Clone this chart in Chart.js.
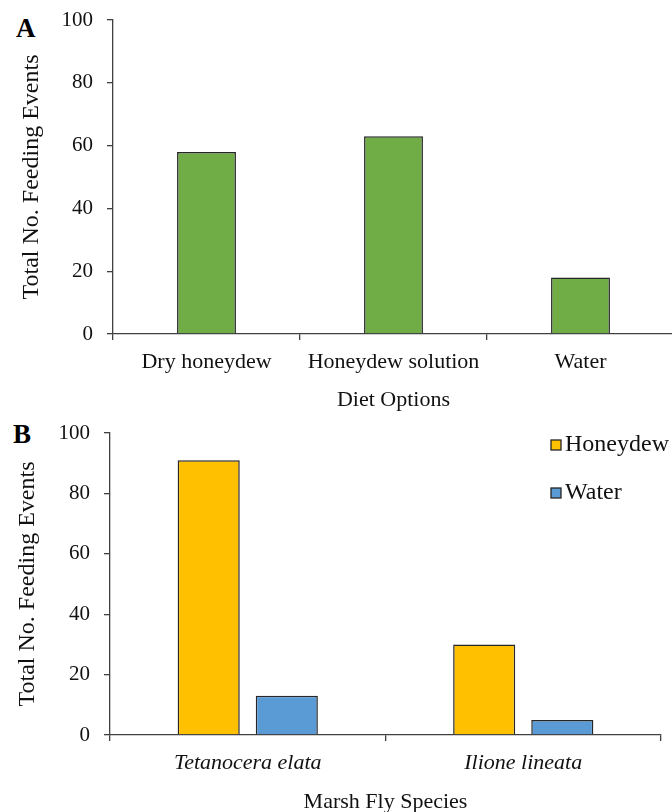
<!DOCTYPE html>
<html>
<head>
<meta charset="utf-8">
<script src="https://cdn.jsdelivr.net/npm/chart.js@4"></script>
<style>
  body { margin: 0; width: 672px; height: 812px; overflow: hidden; background: #fff; position: relative; }
  canvas { position: absolute; left: 0; }
  .panel { position: absolute; font: bold 27px "Liberation Serif", "Times New Roman", serif; color: #000; }
</style>
</head>
<body>
<div class="panel" style="left:16px; top:13px;">A</div>
<div class="panel" style="left:13px; top:419px;">B</div>
<canvas id="dietChart" width="676" height="414" style="top:0px;"></canvas>
<canvas id="speciesChart" width="672" height="396" style="top:420px;"></canvas>
<script>
// Panel A: diet choice
const dietOptions = ["Dry honeydew", "Honeydew solution", "Water"];
const dietEvents = [58, 63, 18];

// Panel B: species vs diet
const flySpecies = ["Tetanocera elata", "Ilione lineata"];
const honeydewEvents = [91, 30];
const waterEvents = [13, 5];

const yTicks = [0, 20, 40, 60, 80, 100];

const serif = '"Liberation Serif", "Times New Roman", serif';
const axisColor = "#404040";
const textColor = "#111";

function yAxis(width, titlePad) {
  return {
    min: 0,
    max: 100,
    afterBuildTicks: (scale) => {
      scale.ticks = yTicks.map((v) => ({ value: v }));
    },
    afterFit: (scale) => {
      scale.width = width;
      // let layout.padding decide where the plot starts
      scale.paddingTop = 0;
      scale.paddingBottom = 0;
    },
    border: { color: axisColor, width: 1.3 },
    grid: { drawOnChartArea: false, drawTicks: true, tickLength: 6, color: axisColor, lineWidth: 1.3 },
    ticks: { color: textColor, padding: 14, font: { family: serif, size: 21 } },
    title: {
      display: true,
      text: "Total No. Feeding Events",
      color: textColor,
      font: { family: serif, size: 24 },
      padding: { top: titlePad, bottom: 0 },
    },
  };
}

function xAxis(height, title, italic) {
  return {
    afterFit: (scale) => {
      scale.height = height;
    },
    border: { color: axisColor, width: 1.3 },
    grid: { drawOnChartArea: false, drawTicks: true, tickLength: 6, color: axisColor, lineWidth: 1.3 },
    ticks: {
      color: textColor,
      padding: 9,
      maxRotation: 0,
      font: { family: serif, size: 22, style: italic ? "italic" : "normal" },
    },
    title: {
      display: true,
      text: title,
      color: textColor,
      font: { family: serif, size: 22 },
      padding: { top: 0, bottom: 1 },
    },
  };
}

// small legend drawn at the top right of panel B
const boxLegend = {
  id: "boxLegend",
  afterDraw(chart) {
    const { ctx } = chart;
    const rows = [25, 73];
    ctx.save();
    ctx.font = `24px ${serif}`;
    ctx.textBaseline = "middle";
    chart.data.datasets.forEach((ds, i) => {
      const y = rows[i];
      ctx.fillStyle = ds.backgroundColor;
      ctx.fillRect(551, y - 5, 10, 10);
      ctx.strokeStyle = "#262626";
      ctx.lineWidth = 1.3;
      ctx.strokeRect(551, y - 5, 10, 10);
      ctx.fillStyle = textColor;
      ctx.fillText(ds.label, 565, y);
    });
    ctx.restore();
  },
};

new Chart(document.getElementById("dietChart"), {
  type: "bar",
  data: {
    labels: dietOptions,
    datasets: [
      {
        label: "Feeding events",
        data: dietEvents,
        backgroundColor: "#70AD47",
        borderColor: "#262626",
        borderWidth: 1.5,
        categoryPercentage: 0.315,
        barPercentage: 1,
      },
    ],
  },
  options: {
    responsive: false,
    animation: false,
    layout: { padding: { left: 0, right: 2, top: 20, bottom: 0 } },
    scales: {
      x: xAxis(80, "Diet Options", false),
      y: yAxis(113, 17),
    },
    plugins: { legend: { display: false }, tooltip: { enabled: false } },
  },
});

new Chart(document.getElementById("speciesChart"), {
  type: "bar",
  data: {
    labels: flySpecies,
    datasets: [
      {
        label: "Honeydew",
        data: honeydewEvents,
        backgroundColor: "#FFC000",
        borderColor: "#262626",
        borderWidth: 1.5,
        categoryPercentage: 0.567,
        barPercentage: 0.795,
      },
      {
        label: "Water",
        data: waterEvents,
        backgroundColor: "#5B9BD5",
        borderColor: "#262626",
        borderWidth: 1.5,
        categoryPercentage: 0.567,
        barPercentage: 0.795,
      },
    ],
  },
  options: {
    responsive: false,
    animation: false,
    layout: { padding: { left: 0, right: 11, top: 13, bottom: 0 } },
    scales: {
      x: xAxis(81, "Marsh Fly Species", true),
      y: yAxis(110, 13),
    },
    plugins: { legend: { display: false }, tooltip: { enabled: false } },
  },
  plugins: [boxLegend],
});
</script>
</body>
</html>
